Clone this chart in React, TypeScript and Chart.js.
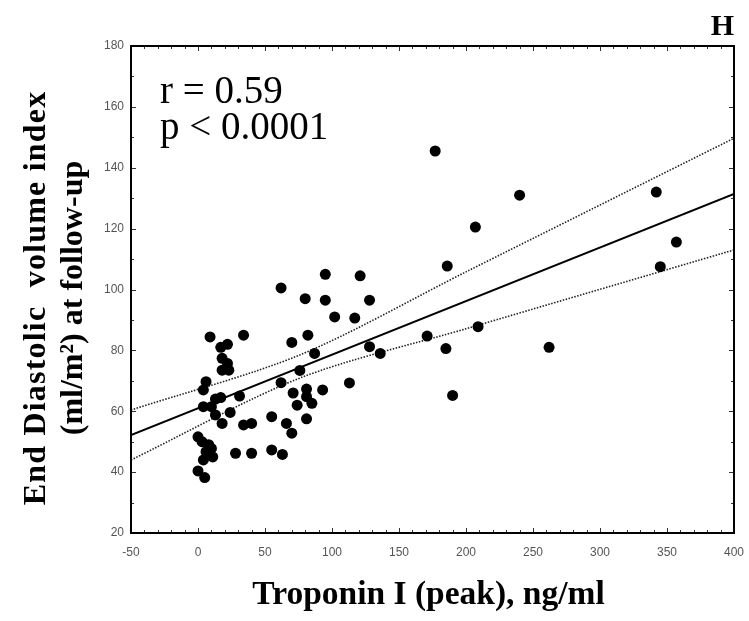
import React, { useEffect, useRef } from "react";
import { Chart, registerables } from "chart.js";

Chart.register(...registerables);

// Scatter data: Troponin I (peak) vs End Diastolic volume index
const troponinPeak = [
  177, 240, 342, 357, 207, 186, 345, 262, 209, 185, 171, 190,
  95, 121, 62, 80, 95, 128, 102, 117, 82, 70, 87, 128, 136, 76, 62, 113,
  71, 81, 81, 93, 74, 85, 81, 66, 70, 63, 55, 55,
  9, 34, 17, 22, 18, 22, 18, 23, 6, 4, 31, 13, 17, 10, 4, 13, 24, 18, 34, 40,
  0, 3, 8, 10, 6, 11, 28, 40, 4, 0, 5,
];
const edvIndex = [
  145.5, 131, 132, 115.6, 120.5, 107.7, 107.5, 81, 87.8, 80.6, 84.7, 65.2,
  105, 104.5, 100.5, 97, 96.5, 96.5, 91, 90.6, 85, 82.6, 79, 81.2, 79, 73.4, 69.4, 69.3,
  66, 67.3, 64.8, 67, 62, 62.6, 57.5, 56, 52.8, 45.8, 47.3, 58.2,
  84.4, 85, 81, 82, 77.4, 75.7, 73.5, 73.5, 69.7, 67, 65, 64, 64.5, 61.5, 61.5, 58.8, 59.6, 56, 55.5, 56,
  51.6, 50, 49, 47.8, 46.7, 45, 46.2, 46.2, 44, 40.4, 38.2,
];

// Regression line and 95% confidence band
const fitX = [-50, 400];
const fitY = [52.2, 131.4];
const bandX = [-50, 76, 200, 400];
const bandUpper = [60.4, 78.5, 105.8, 149.7];
const bandLower = [44, 70.9, 87.1, 113];

const xTickValues = [-50, 0, 50, 100, 150, 200, 250, 300, 350, 400];
const yTickValues = [20, 40, 60, 80, 100, 120, 140, 160, 180];

const statLines = ["r = 0.59", "p < 0.0001"];
const panelLabel = "H";
const xTitle = "Troponin I (peak), ng/ml";
const yTitleLines = ["End Diastolic  volume index", "(ml/m\u00B2) at follow-up"];

const decorPlugin = {
  id: "decor",
  afterDraw(chart: any) {
    const { ctx, chartArea, scales } = chart;
    const { left, top, right, bottom } = chartArea;
    const xs = scales.x;
    const ys = scales.y;
    ctx.save();
    // minor ticks inside the box
    ctx.strokeStyle = "#333";
    ctx.lineWidth = 1;
    for (let v = xTickValues[0]; v <= xTickValues[xTickValues.length - 1]; v += 10) {
      const px = Math.round(xs.getPixelForValue(v)) + 0.5;
      const len = (v % 50 === 0) ? 5 : 3;
      ctx.beginPath();
      ctx.moveTo(px, bottom);
      ctx.lineTo(px, bottom - len);
      ctx.moveTo(px, top);
      ctx.lineTo(px, top + len);
      ctx.stroke();
    }
    for (let v = yTickValues[0]; v <= yTickValues[yTickValues.length - 1]; v += 10) {
      const py = Math.round(ys.getPixelForValue(v)) + 0.5;
      const len = (v % 20 === 0) ? 5 : 3;
      ctx.beginPath();
      ctx.moveTo(left, py);
      ctx.lineTo(left + len, py);
      ctx.moveTo(right, py);
      ctx.lineTo(right - len, py);
      ctx.stroke();
    }
    // box
    ctx.strokeStyle = "#000";
    ctx.lineWidth = 2;
    ctx.strokeRect(left, top, right - left, bottom - top);

    // stats text
    ctx.fillStyle = "#000";
    ctx.textAlign = "left";
    ctx.textBaseline = "alphabetic";
    ctx.font = '39px "Liberation Serif"';
    ctx.fillText(statLines[0], left + 29, top + 57);
    ctx.fillText(statLines[1], left + 29, top + 93);

    // panel label
    ctx.font = 'bold 30px "Liberation Serif"';
    ctx.textAlign = "right";
    ctx.fillText(panelLabel, right, top - 11);

    // x title
    ctx.font = 'bold 33.5px "Liberation Serif"';
    ctx.textAlign = "center";
    ctx.fillText(xTitle, (left + right) / 2 - 4, 604);

    // y title
    ctx.save();
    ctx.translate(0, 298);
    ctx.rotate(-Math.PI / 2);
    ctx.font = 'bold 32px "Liberation Serif"';
    ctx.textAlign = "center";
    (ctx as any).letterSpacing = "1.2px";
    ctx.fillText(yTitleLines[0], 0, 45);
    (ctx as any).letterSpacing = "0px";
    ctx.fillText(yTitleLines[1], 0, 82);
    ctx.restore();

    ctx.restore();
  },
};

export default function App() {
  const ref = useRef<HTMLCanvasElement | null>(null);
  useEffect(() => {
    document.body.style.margin = "0";
    const canvas = ref.current;
    if (!canvas) return;
    const points = troponinPeak.map((x, i) => ({ x, y: edvIndex[i] }));
    const fit = fitX.map((x, i) => ({ x, y: fitY[i] }));
    const up = bandX.map((x, i) => ({ x, y: bandUpper[i] }));
    const lo = bandX.map((x, i) => ({ x, y: bandLower[i] }));
    const chart = new Chart(canvas, {
      type: "scatter",
      data: {
        datasets: [
          {
            type: "line",
            data: fit,
            borderColor: "#000",
            borderWidth: 2,
            pointRadius: 0,
            fill: false,
            order: 2,
          } as any,
          {
            type: "line",
            data: up,
            borderColor: "#222",
            borderWidth: 1.6,
            borderDash: [1.5, 1.5],
            pointRadius: 0,
            fill: false,
            tension: 0.3,
            order: 3,
          } as any,
          {
            type: "line",
            data: lo,
            borderColor: "#222",
            borderWidth: 1.6,
            borderDash: [1.5, 1.5],
            pointRadius: 0,
            fill: false,
            tension: 0.3,
            order: 3,
          } as any,
          {
            data: points,
            backgroundColor: "#000",
            borderColor: "#000",
            borderWidth: 0,
            pointRadius: 5.5,
            pointHoverRadius: 5.5,
            order: 1,
          },
        ],
      },
      options: {
        responsive: false,
        animation: false,
        events: [],
        layout: { padding: { left: 0, top: 46, right: 15, bottom: 0 } },
        plugins: { legend: { display: false }, tooltip: { enabled: false }, title: { display: false } },
        scales: {
          x: {
            type: "linear",
            min: xTickValues[0],
            max: xTickValues[xTickValues.length - 1],
            afterBuildTicks: (s: any) => {
              s.ticks = xTickValues.map((v) => ({ value: v }));
            },
            afterFit: (s: any) => {
              s.height = 88;
              s.paddingLeft = 0;
              s.paddingRight = 0;
            },
            grid: { display: false, drawTicks: false },
            border: { display: false },
            ticks: {
              padding: 12,
              color: "#555",
              font: { family: '"Liberation Sans"', size: 12 },
              maxRotation: 0,
              autoSkip: false,
            },
          },
          y: {
            type: "linear",
            min: yTickValues[0],
            max: yTickValues[yTickValues.length - 1],
            afterBuildTicks: (s: any) => {
              s.ticks = yTickValues.map((v) => ({ value: v }));
            },
            afterFit: (s: any) => {
              s.width = 131;
              s.paddingTop = 0;
              s.paddingBottom = 0;
            },
            grid: { display: false, drawTicks: false },
            border: { display: false },
            ticks: {
              padding: 7,
              color: "#555",
              font: { family: '"Liberation Sans"', size: 12 },
              autoSkip: false,
            },
          },
        },
      },
      plugins: [decorPlugin],
    });
    return () => chart.destroy();
  }, []);
  return (
    <div style={{ width: 749, height: 621, background: "#fff" }}>
      <canvas ref={ref} width={749} height={621} style={{ display: "block" }} />
    </div>
  );
}
